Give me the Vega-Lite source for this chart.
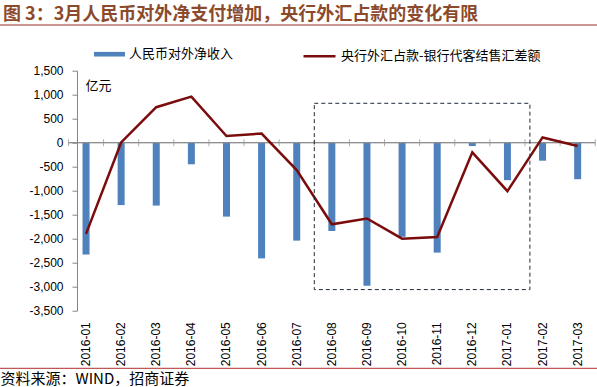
{
  "$schema": "https://vega.github.io/schema/vega-lite/v6.json",
  "width": 597,
  "height": 240,
  "autosize": "none",
  "padding": {"left": 0, "top": 70.7, "right": 0, "bottom": 76.3},
  "background": "white",
  "title": {
    "text": "图 3：3月人民币对外净支付增加，央行外汇占款的变化有限",
    "anchor": "start",
    "frame": "group",
    "orient": "top",
    "offset": 0,
    "dx": 3,
    "font": "Noto Sans CJK SC",
    "fontSize": 18,
    "fontWeight": "bold",
    "color": "#8b4a2b"
  },
  "data": {
    "values": [
      {"month": "2016-01", "income": -2330, "fx": -1900},
      {"month": "2016-02", "income": -1300, "fx": 5},
      {"month": "2016-03", "income": -1310, "fx": 740},
      {"month": "2016-04", "income": -450, "fx": 960},
      {"month": "2016-05", "income": -1540, "fx": 140},
      {"month": "2016-06", "income": -2410, "fx": 190},
      {"month": "2016-07", "income": -2040, "fx": -570},
      {"month": "2016-08", "income": -1840, "fx": -1700},
      {"month": "2016-09", "income": -2980, "fx": -1580},
      {"month": "2016-10", "income": -1960, "fx": -2000},
      {"month": "2016-11", "income": -2290, "fx": -1965},
      {"month": "2016-12", "income": -70, "fx": -200},
      {"month": "2017-01", "income": -780, "fx": -1010},
      {"month": "2017-02", "income": -375, "fx": 110},
      {"month": "2017-03", "income": -760, "fx": -70}
    ]
  },
  "layer": [
    {
      "mark": {"type": "bar", "size": 7},
      "encoding": {
        "x": {
          "field": "month",
          "type": "nominal",
          "scale": {
            "domain": ["2016-01","2016-02","2016-03","2016-04","2016-05","2016-06","2016-07","2016-08","2016-09","2016-10","2016-11","2016-12","2017-01","2017-02","2017-03"],
            "paddingInner": 0,
            "paddingOuter": 1.144,
            "align": 0.9747
          },
          "axis": {
            "orient": "bottom",
            "labelAngle": -90,
            "labelAlign": "right",
            "labelBaseline": "middle",
            "labelPadding": 11,
            "domain": false,
            "ticks": false,
            "tickSize": 0,
            "labelFont": "Liberation Sans",
            "labelFontSize": 12,
            "labelColor": "#000000",
            "title": "资料来源：WIND，招商证券",
            "titleX": 0,
            "titleY": 67.5,
            "titleAlign": "left",
            "titleBaseline": "middle",
            "titleFont": "Noto Sans CJK SC",
            "titleFontSize": 15,
            "titleFontWeight": "normal",
            "titleColor": "#000000"
          }
        },
        "y": {
          "field": "income",
          "type": "quantitative",
          "scale": {"domain": [-3500, 1500], "nice": false, "zero": false},
          "title": "亿元",
          "axis": {"orient": "left", "offset": -77, "values": [-3500, -3000, -2500, -2000, -1500, -1000, -500, 0, 500, 1000, 1500], "format": ",.0f", "labelOverlap": false, "grid": false, "domainColor": "#868686", "tickColor": "#868686", "tickSize": 5, "labelPadding": 9, "labelFont": "Liberation Sans", "labelFontSize": 12, "labelColor": "#000000", "title": "亿元", "titleAngle": 0, "titleX": 8, "titleY": 14.3, "titleAlign": "left", "titleBaseline": "middle", "titleFont": "Noto Sans CJK SC", "titleFontSize": 13, "titleFontWeight": "normal", "titleColor": "#000000"}
        },
        "fill": {
          "datum": "人民币对外净收入",
          "type": "nominal",
          "scale": {"domain": ["人民币对外净收入"], "range": ["#4f81bd"]},
          "legend": {
            "title": null,
            "orient": "none",
            "legendX": 94,
            "legendY": -32,
            "padding": 0,
            "symbolType": "M-1,-0.15H1V0.15H-1Z",
            "symbolSize": 961,
            "symbolStrokeWidth": 0,
            "labelOffset": 4,
            "labelLimit": 300,
            "labelFont": "Noto Sans CJK SC",
            "labelFontSize": 13,
            "labelColor": "#000000"
          }
        }
      }
    },
    {
      "data": {"values": [{}]},
      "mark": {"type": "rule", "stroke": "#9b2a2a", "strokeWidth": 1.2},
      "encoding": {
        "y": {"datum": 2452, "type": "quantitative", "title": "亿元", "axis": {"orient": "left", "offset": -77, "values": [-3500, -3000, -2500, -2000, -1500, -1000, -500, 0, 500, 1000, 1500], "format": ",.0f", "labelOverlap": false, "grid": false, "domainColor": "#868686", "tickColor": "#868686", "tickSize": 5, "labelPadding": 9, "labelFont": "Liberation Sans", "labelFontSize": 12, "labelColor": "#000000", "title": "亿元", "titleAngle": 0, "titleX": 8, "titleY": 14.3, "titleAlign": "left", "titleBaseline": "middle", "titleFont": "Noto Sans CJK SC", "titleFontSize": 13, "titleFontWeight": "normal", "titleColor": "#000000"}}
      }
    },
    {
      "data": {"values": [{}]},
      "mark": {"type": "rule", "stroke": "#b03030", "strokeWidth": 1},
      "encoding": {
        "y": {"datum": -4700, "type": "quantitative", "title": "亿元", "axis": {"orient": "left", "offset": -77, "values": [-3500, -3000, -2500, -2000, -1500, -1000, -500, 0, 500, 1000, 1500], "format": ",.0f", "labelOverlap": false, "grid": false, "domainColor": "#868686", "tickColor": "#868686", "tickSize": 5, "labelPadding": 9, "labelFont": "Liberation Sans", "labelFontSize": 12, "labelColor": "#000000", "title": "亿元", "titleAngle": 0, "titleX": 8, "titleY": 14.3, "titleAlign": "left", "titleBaseline": "middle", "titleFont": "Noto Sans CJK SC", "titleFontSize": 13, "titleFontWeight": "normal", "titleColor": "#000000"}}
      }
    },
    {
      "mark": {"type": "rect", "fillOpacity": 0, "stroke": "#8c8c8c", "strokeWidth": 1},
      "encoding": {
        "x": {"field": "month", "type": "nominal", "axis": null},
        "y": {"datum": 0, "type": "quantitative", "title": "亿元", "axis": {"orient": "left", "offset": -77, "values": [-3500, -3000, -2500, -2000, -1500, -1000, -500, 0, 500, 1000, 1500], "format": ",.0f", "labelOverlap": false, "grid": false, "domainColor": "#868686", "tickColor": "#868686", "tickSize": 5, "labelPadding": 9, "labelFont": "Liberation Sans", "labelFontSize": 12, "labelColor": "#000000", "title": "亿元", "titleAngle": 0, "titleX": 8, "titleY": 14.3, "titleAlign": "left", "titleBaseline": "middle", "titleFont": "Noto Sans CJK SC", "titleFontSize": 13, "titleFontWeight": "normal", "titleColor": "#000000"}},
        "y2": {"datum": 0}
      }
    },
    {
      "mark": {"type": "tick", "orient": "vertical", "size": 7, "thickness": 1, "color": "#8c8c8c"},
      "encoding": {
        "x": {"field": "month", "type": "nominal", "bandPosition": 0, "axis": null},
        "y": {"datum": 0, "type": "quantitative", "title": "亿元", "axis": {"orient": "left", "offset": -77, "values": [-3500, -3000, -2500, -2000, -1500, -1000, -500, 0, 500, 1000, 1500], "format": ",.0f", "labelOverlap": false, "grid": false, "domainColor": "#868686", "tickColor": "#868686", "tickSize": 5, "labelPadding": 9, "labelFont": "Liberation Sans", "labelFontSize": 12, "labelColor": "#000000", "title": "亿元", "titleAngle": 0, "titleX": 8, "titleY": 14.3, "titleAlign": "left", "titleBaseline": "middle", "titleFont": "Noto Sans CJK SC", "titleFontSize": 13, "titleFontWeight": "normal", "titleColor": "#000000"}}
      }
    },
    {
      "data": {"values": [{}]},
      "mark": {"type": "tick", "orient": "vertical", "size": 7, "thickness": 1, "color": "#8c8c8c"},
      "encoding": {
        "x": {"datum": "2017-03", "type": "nominal", "bandPosition": 1, "axis": null},
        "y": {"datum": 0, "type": "quantitative", "title": "亿元", "axis": {"orient": "left", "offset": -77, "values": [-3500, -3000, -2500, -2000, -1500, -1000, -500, 0, 500, 1000, 1500], "format": ",.0f", "labelOverlap": false, "grid": false, "domainColor": "#868686", "tickColor": "#868686", "tickSize": 5, "labelPadding": 9, "labelFont": "Liberation Sans", "labelFontSize": 12, "labelColor": "#000000", "title": "亿元", "titleAngle": 0, "titleX": 8, "titleY": 14.3, "titleAlign": "left", "titleBaseline": "middle", "titleFont": "Noto Sans CJK SC", "titleFontSize": 13, "titleFontWeight": "normal", "titleColor": "#000000"}}
      }
    },
    {
      "mark": {"type": "line", "strokeWidth": 2.5},
      "encoding": {
        "x": {"field": "month", "type": "nominal", "axis": null},
        "y": {"field": "fx", "type": "quantitative", "title": "亿元", "axis": {"orient": "left", "offset": -77, "values": [-3500, -3000, -2500, -2000, -1500, -1000, -500, 0, 500, 1000, 1500], "format": ",.0f", "labelOverlap": false, "grid": false, "domainColor": "#868686", "tickColor": "#868686", "tickSize": 5, "labelPadding": 9, "labelFont": "Liberation Sans", "labelFontSize": 12, "labelColor": "#000000", "title": "亿元", "titleAngle": 0, "titleX": 8, "titleY": 14.3, "titleAlign": "left", "titleBaseline": "middle", "titleFont": "Noto Sans CJK SC", "titleFontSize": 13, "titleFontWeight": "normal", "titleColor": "#000000"}},
        "stroke": {
          "datum": "央行外汇占款-银行代客结售汇差额",
          "type": "nominal",
          "scale": {"domain": ["央行外汇占款-银行代客结售汇差额"], "range": ["#7b0c0c"]},
          "legend": {
            "title": null,
            "orient": "none",
            "legendX": 302,
            "legendY": -32,
            "padding": 0,
            "symbolType": "stroke",
            "symbolSize": 1024,
            "symbolStrokeWidth": 2.5,
            "labelOffset": 4,
            "labelLimit": 300,
            "labelFont": "Noto Sans CJK SC",
            "labelFontSize": 13,
            "labelColor": "#000000"
          }
        }
      }
    },
    {
      "data": {"values": [{"s": "2016-08", "e": "2017-02"}]},
      "mark": {"type": "rect", "fillOpacity": 0, "stroke": "#1f2a38", "strokeWidth": 1, "strokeDash": [4, 3]},
      "encoding": {
        "x": {"field": "s", "type": "nominal", "bandPosition": 0, "axis": null},
        "x2": {"field": "e", "bandPosition": 0.14},
        "y": {"datum": 821, "type": "quantitative", "title": "亿元", "axis": {"orient": "left", "offset": -77, "values": [-3500, -3000, -2500, -2000, -1500, -1000, -500, 0, 500, 1000, 1500], "format": ",.0f", "labelOverlap": false, "grid": false, "domainColor": "#868686", "tickColor": "#868686", "tickSize": 5, "labelPadding": 9, "labelFont": "Liberation Sans", "labelFontSize": 12, "labelColor": "#000000", "title": "亿元", "titleAngle": 0, "titleX": 8, "titleY": 14.3, "titleAlign": "left", "titleBaseline": "middle", "titleFont": "Noto Sans CJK SC", "titleFontSize": 13, "titleFontWeight": "normal", "titleColor": "#000000"}},
        "y2": {"datum": -3060}
      }
    }
  ],
  "resolve": {"axis": {"x": "independent"}},
  "config": {
    "view": {"stroke": null},
    "locale": {
      "number": {"decimal": ".", "thousands": ",", "grouping": [3], "currency": ["$", ""], "minus": "-"}
    }
  }
}
